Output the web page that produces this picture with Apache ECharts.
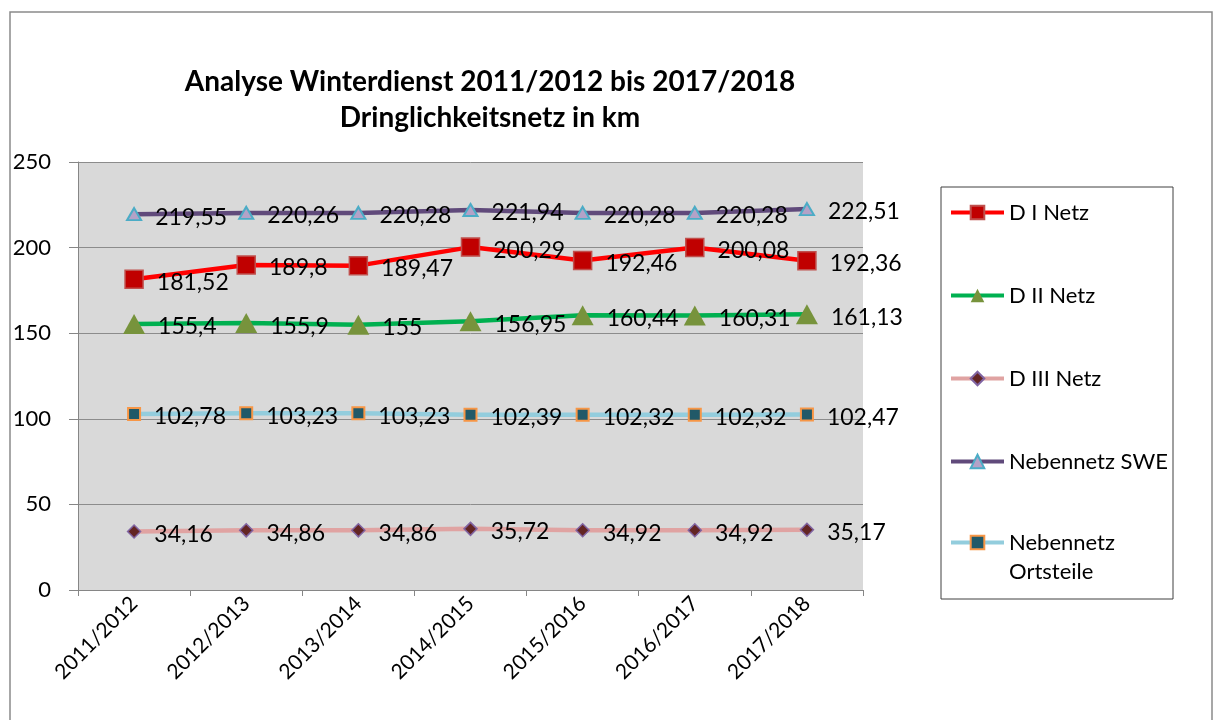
<!DOCTYPE html>
<html>
<head>
<meta charset="utf-8">
<script src="https://cdn.jsdelivr.net/npm/echarts@6/dist/echarts.min.js"></script>
<style>
  html, body { margin: 0; padding: 0; background: #fff; }
  #chart { width: 1215px; height: 720px; }
</style>
</head>
<body>
<div id="chart"></div>
<script>
// Saisons
var categories = ['2011/2012', '2012/2013', '2013/2014', '2014/2015', '2015/2016', '2016/2017', '2017/2018']
// km je Netz
var dINetz = [181.52, 189.8, 189.47, 200.29, 192.46, 200.08, 192.36]
var dIINetz = [155.4, 155.9, 155, 156.95, 160.44, 160.31, 161.13]
var dIIINetz = [34.16, 34.86, 34.86, 35.72, 34.92, 34.92, 35.17]
var nebenSWE = [219.55, 220.26, 220.28, 221.94, 220.28, 220.28, 222.51]
var nebenOrtsteile = [102.78, 103.23, 103.23, 102.39, 102.32, 102.32, 102.47]
var yTicks = [0, 50, 100, 150, 200, 250]

var font = 'Lato, "Open Sans", sans-serif'

function labelOpt() {
  return {
    show: true,
    position: 'right',
    distance: 13,
    offset: [0, 3],
    color: '#000',
    fontSize: 23,
    fontFamily: font,
    formatter: function (p) { return String(p.value).replace('.', ',') }
  }
}

var legendText = { fontSize: 22, color: '#000', lineHeight: 29, fontFamily: font }

var chart = echarts.init(document.getElementById('chart'))
chart.setOption({
  animation: false,
  textStyle: { fontFamily: font },
  graphic: [
    {
      type: 'rect',
      shape: { x: 10, y: 12, width: 1202, height: 730 },
      style: { fill: 'none', stroke: '#8a8a8a', lineWidth: 1.5 },
      silent: true
    },
    {
      type: 'rect',
      shape: { x: 941, y: 187, width: 232, height: 412 },
      style: { fill: '#fff', stroke: '#404040', lineWidth: 1 },
      silent: true,
      z: 0
    }
  ],
  title: {
    text: 'Analyse Winterdienst 2011/2012 bis 2017/2018\nDringlichkeitsnetz in km',
    left: 485,
    top: 59,
    textAlign: 'center',
    textStyle: {
      fontFamily: font,
      fontSize: 28,
      fontWeight: 'bold',
      color: '#000',
      lineHeight: 36
    }
  },
  legend: [
    {
      orient: 'vertical',
      left: 949,
      top: 198,
      padding: 0,
      itemGap: 54,
      itemWidth: 53,
      itemHeight: 17,
      lineStyle: { width: 4 },
      data: ['D I Netz', 'D II Netz', 'D III Netz', 'Nebennetz SWE'],
      textStyle: legendText
    },
    {
      orient: 'vertical',
      left: 949,
      top: 499,
      padding: 0,
      itemWidth: 53,
      itemHeight: 17,
      lineStyle: { width: 4 },
      data: ['Nebennetz Ortsteile'],
      formatter: function () { return '\nNebennetz\nOrtsteile' },
      textStyle: legendText
    }
  ],
  grid: {
    left: 78,
    right: 352,
    top: 162,
    bottom: 130,
    show: true,
    backgroundColor: '#d9d9d9',
    borderWidth: 0
  },
  xAxis: {
    type: 'category',
    data: categories,
    boundaryGap: true,
    axisLine: { lineStyle: { color: '#868686', width: 1 } },
    axisTick: { show: true, length: 6, lineStyle: { color: '#868686' } },
    axisLabel: { rotate: 45, fontSize: 21, color: '#000', margin: 10, interval: 0, fontFamily: font }
  },
  yAxis: {
    type: 'value',
    min: yTicks[0],
    max: yTicks[yTicks.length - 1],
    interval: 50,
    axisLine: { show: true, lineStyle: { color: '#868686', width: 1 } },
    axisTick: { show: true, length: 9, lineStyle: { color: '#868686' } },
    axisLabel: { fontSize: 22, color: '#000', margin: 27, fontFamily: font },
    splitLine: { lineStyle: { color: '#8c8c8c', width: 1 } }
  },
  series: [
    {
      name: 'D I Netz',
      type: 'line',
      data: dINetz,
      symbol: 'rect',
      symbolSize: 18,
      lineStyle: { color: '#ff0000', width: 4.5 },
      itemStyle: { color: '#c00000', borderColor: '#c0504d', borderWidth: 1.5 },
      label: labelOpt(),
      z: 4
    },
    {
      name: 'D II Netz',
      type: 'line',
      data: dIINetz,
      symbol: 'triangle',
      symbolSize: [22, 20],
      lineStyle: { color: '#00b050', width: 4.5 },
      itemStyle: { color: '#77933c', borderWidth: 0 },
      label: labelOpt(),
      z: 3
    },
    {
      name: 'D III Netz',
      type: 'line',
      data: dIIINetz,
      symbol: 'diamond',
      symbolSize: 13,
      lineStyle: { color: '#e0a3a2', width: 4.5 },
      itemStyle: { color: '#632523', borderColor: '#8064a2', borderWidth: 1.5 },
      label: labelOpt(),
      z: 3
    },
    {
      name: 'Nebennetz SWE',
      type: 'line',
      data: nebenSWE,
      symbol: 'triangle',
      symbolSize: [14, 12],
      lineStyle: { color: '#604a7b', width: 4.5 },
      itemStyle: { color: '#b3a2c7', borderColor: '#4bacc6', borderWidth: 2 },
      label: labelOpt(),
      z: 3
    },
    {
      name: 'Nebennetz Ortsteile',
      type: 'line',
      data: nebenOrtsteile,
      symbol: 'rect',
      symbolSize: 12,
      lineStyle: { color: '#93cddd', width: 4.5 },
      itemStyle: { color: '#215968', borderColor: '#f79646', borderWidth: 2 },
      label: labelOpt(),
      z: 3
    }
  ]
})
</script>
</body>
</html>
